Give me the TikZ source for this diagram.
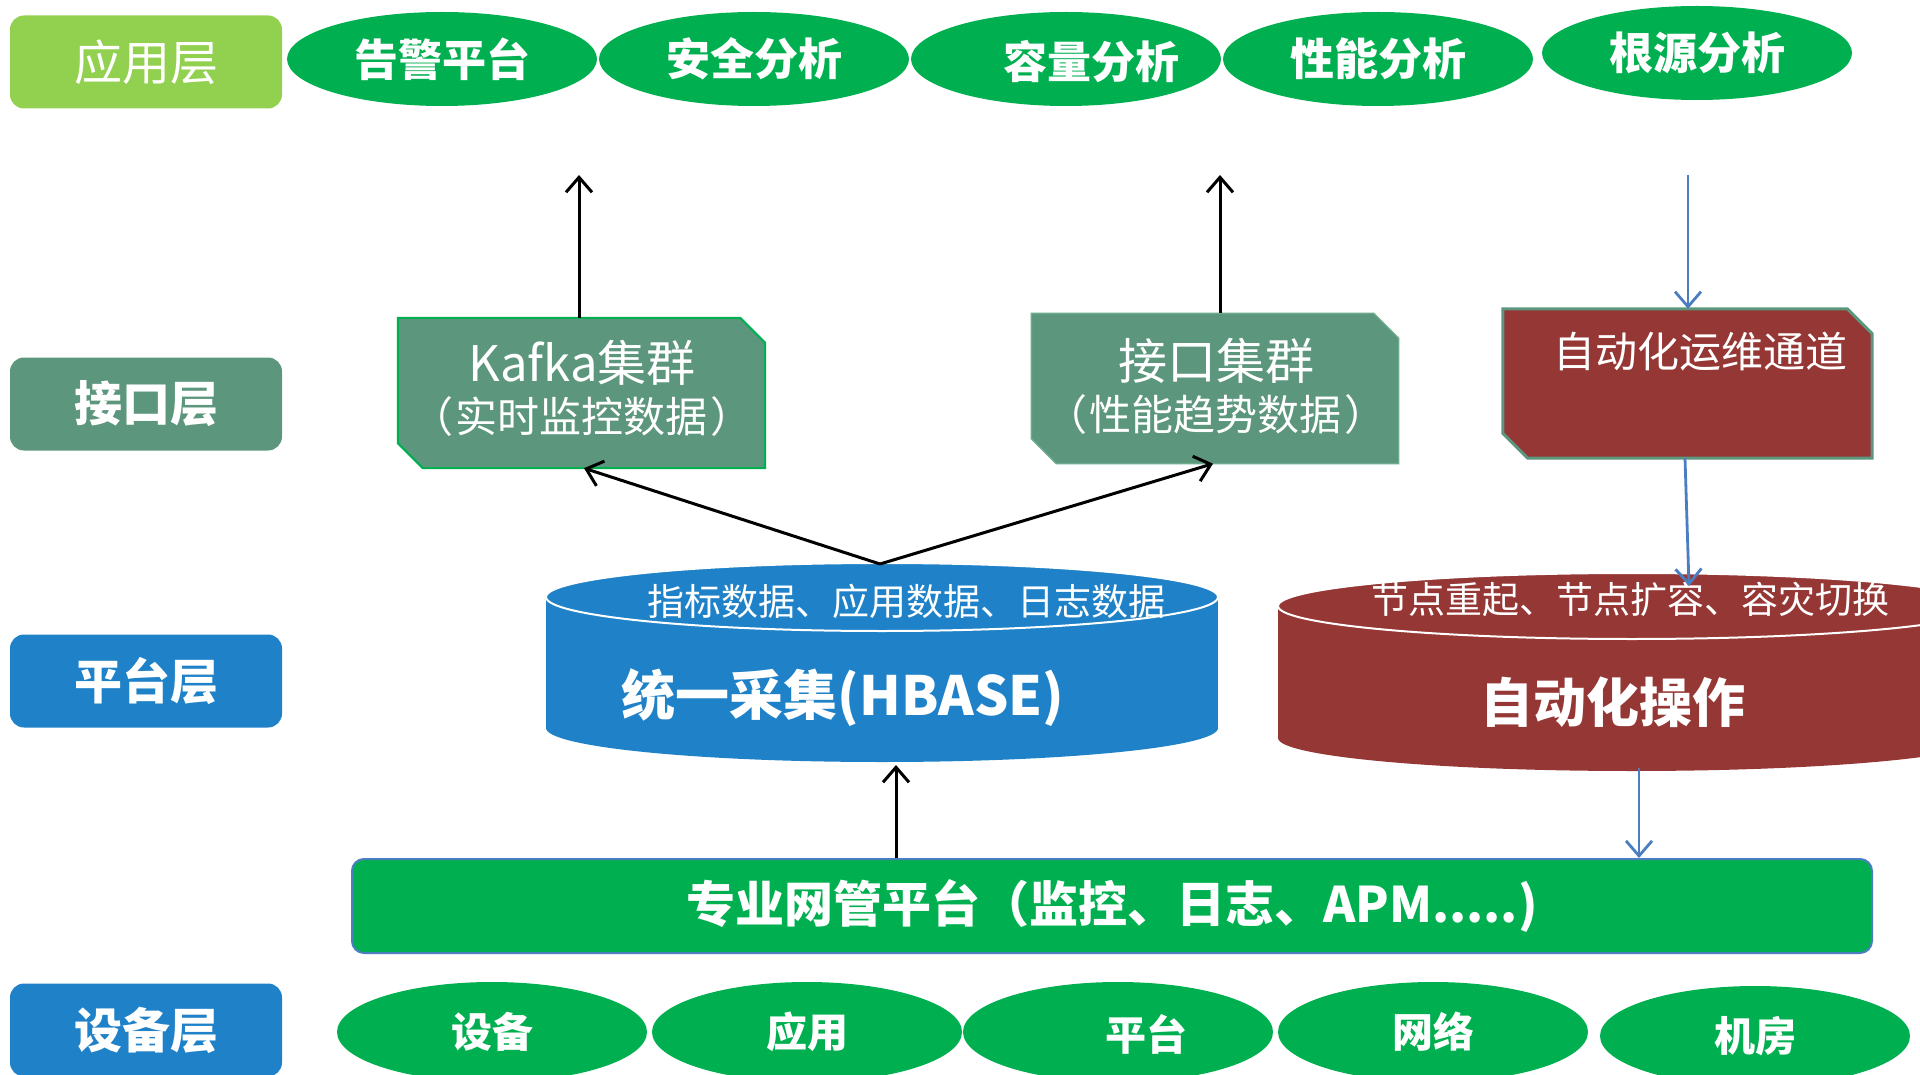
\documentclass[tikz,border=0pt]{standalone}
\usepackage{fontspec}
\setmainfont{Noto Sans CJK SC}
\usetikzlibrary{shapes.geometric,arrows.meta}
\definecolor{lgreen}{RGB}{146,208,80}
\definecolor{dgreen}{RGB}{0,176,80}
\definecolor{sgreen}{RGB}{92,150,125}
\definecolor{sgreenline}{RGB}{110,170,140}
\definecolor{lblue}{RGB}{31,130,200}
\definecolor{dred}{RGB}{149,55,53}
\definecolor{arrblue}{RGB}{74,126,193}
\pgfdeclarelayer{bg}
\pgfsetlayers{bg,main}
\newcommand\chamfbox[4]{%
  \begin{pgfonlayer}{bg}
  \draw[fill=#2,draw=#3,line width=#4] (#1.north west) -- ([xshift=-25pt]#1.north east) -- ([yshift=-25pt]#1.north east) -- (#1.south east) -- ([xshift=25pt]#1.south west) -- ([yshift=25pt]#1.south west) -- cycle;
  \end{pgfonlayer}}
\begin{document}
\begin{tikzpicture}[x=1pt,y=-1pt,
  layerbox/.style={rounded corners=14pt, minimum width=272pt, minimum height=93pt, inner sep=0pt, text=white, font=\bfseries\fontsize{48}{52}\selectfont},
  oval/.style={ellipse, fill=dgreen, minimum width=310pt, minimum height=94pt, inner sep=0pt, text=white, font=\bfseries\fontsize{44}{50}\selectfont},
  txt/.style={inner sep=0pt, text=white},
  area/.style={inner sep=0pt, minimum width=367pt, minimum height=150pt},
  boxtxt/.style={inner sep=0pt, text=white, align=center, font=\fontsize{49}{51}\selectfont},
  blk/.style={draw=black, line width=3pt, -{Straight Barb[length=15pt,width=26pt]}},
  blu/.style={draw=arrblue, line width=2.8pt, -{Straight Barb[length=15pt,width=26pt]}}
]
\path[use as bounding box] (0,0) rectangle (1920,1075);
\clip (0,0) rectangle (1920,1075);

% layer labels
\node[layerbox, fill=lgreen, font=\fontsize{48}{52}\selectfont] (l1) at (146,62) {应用层};
\node[layerbox, fill=sgreen] (l2) at (146,404) {接口层};
\node[layerbox, fill=lblue] (l3) at (146,681) {平台层};
\node[layerbox, fill=lblue] (l4) at (146,1030) {设备层};

% top ellipses
\node[oval] (a1) at (442,59) {告警平台};
\node[oval] (a2) at (754,59) {安全分析};
\node[oval] (a3) at (1066,59) {};
\node[txt, font=\bfseries\fontsize{44}{50}\selectfont] (a3t) at (1091,62) {容量分析};
\node[oval] (a4) at (1378,59) {性能分析};
\node[oval] (a5) at (1697,53) {根源分析};

% interface boxes
\node[area] (kafka) at (581.5,393) {};
\chamfbox{kafka}{sgreen}{dgreen}{2pt}
\node[boxtxt] (kafkat) at (582,388) {Kafka集群\\{\fontsize{42}{51}\selectfont （\hspace{3pt}实时监控数据\hspace{3pt}）}};
\node[area] (jk) at (1215,388.5) {};
\chamfbox{jk}{sgreen}{sgreenline}{1.5pt}
\node[boxtxt] (jkt) at (1216,386) {接口集群\\{\fontsize{42}{51}\selectfont （\hspace{3pt}性能趋势数据\hspace{3pt}）}};
\node[area, minimum width=369pt, minimum height=149pt] (auto) at (1687.5,383.5) {};
\chamfbox{auto}{dred}{sgreen}{3pt}
\node[txt, font=\fontsize{42}{48}\selectfont] (autot) at (1700,352) {自动化运维通道};

% HBASE cylinder
\fill[lblue] (546,597) rectangle (1218,728);
\fill[lblue] (882,728) ellipse[x radius=336pt, y radius=34pt];
\filldraw[fill=lblue, draw=white, line width=2pt] (882,597) ellipse[x radius=336pt, y radius=34pt];
\coordinate (hbtop) at (880,564);
\coordinate (hbbot) at (896,765);
\node[txt, font=\fontsize{37}{42}\selectfont] (hbt) at (906,601) {指标数据、应用数据、日志数据};
\node[txt, font=\bfseries\fontsize{54}{60}\selectfont] (hbm) at (843,698) {统一采集(HBASE)};

% automation cylinder
\fill[dred] (1278,606) rectangle (1986,738);
\fill[dred] (1632,738) ellipse[x radius=354pt, y radius=33pt];
\filldraw[fill=dred, draw=white, line width=2pt] (1632,606) ellipse[x radius=354pt, y radius=33pt];
\coordinate (autotop) at (1689,586);
\coordinate (autobot) at (1639,768);
\node[txt, font=\fontsize{37}{42}\selectfont] (aot) at (1630,599) {节点重起、节点扩容、容灾切换};
\node[txt, font=\bfseries\fontsize{53}{60}\selectfont] (aom) at (1613,702) {自动化操作};

% platform bar
\node[fill=dgreen, draw=arrblue, line width=2pt, rounded corners=12pt, minimum width=1520pt, minimum height=94pt, inner sep=0pt, text=white, font=\bfseries\fontsize{49}{54}\selectfont] (plat) at (1112,906) {专业网管平台（监控、日志、APM.....)};
\coordinate (plat1) at (896,858);
\coordinate (plat2) at (1639,858);

% device ellipses
\node[oval, minimum height=100pt, font=\bfseries\fontsize{41}{48}\selectfont] (d1) at (492,1032) {设备};
\node[oval, minimum height=100pt, font=\bfseries\fontsize{41}{48}\selectfont] (d2) at (807,1032) {应用};
\node[oval, minimum height=100pt] (d3) at (1118,1032) {};
\node[txt, font=\bfseries\fontsize{41}{48}\selectfont] (d3t) at (1146,1034) {平台};
\node[oval, minimum height=100pt, font=\bfseries\fontsize{41}{48}\selectfont] (d4) at (1433,1032) {网络};
\node[oval, minimum height=100pt, font=\bfseries\fontsize{41}{48}\selectfont] (d5) at (1755,1036) {机房};

% connectors
\coordinate (up1) at (579,175);
\coordinate (up2) at (1220,175);
\coordinate (dn1) at (1688,175);
\draw[blk] ([xshift=-2.5pt]kafka.north) -- (up1);
\draw[blk] ([xshift=5pt]jk.north) -- (up2);
\draw[blu] (dn1) -- ([xshift=0.5pt]auto.north);
\draw[blk] (hbtop) -- ([xshift=2.5pt]kafka.south);
\draw[blk] (hbtop) -- ([xshift=-2pt]jk.south);
\draw[blu] ([xshift=-2.5pt]auto.south) -- (autotop);
\draw[blu] (autobot) -- (plat2);
\draw[blk] (plat1) -- (hbbot);
\end{tikzpicture}
\end{document}
